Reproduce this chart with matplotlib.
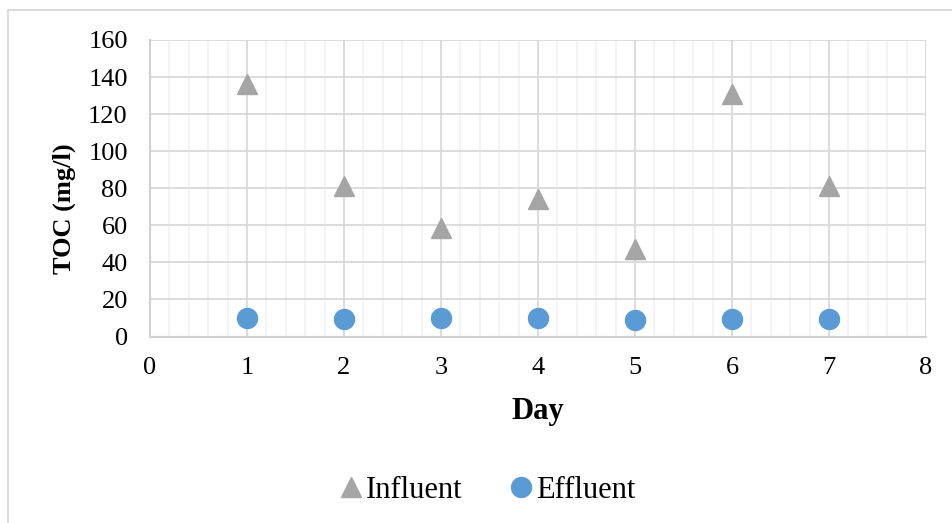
import matplotlib
matplotlib.use("Agg")
import matplotlib.pyplot as plt
from matplotlib.ticker import MultipleLocator
from matplotlib.patches import Rectangle

days = [1, 2, 3, 4, 5, 6, 7]
influent = [136, 81, 58.5, 74, 47, 131, 81]
effluent = [10.1, 9.4, 10.1, 10.1, 8.8, 9.6, 9.6]

x_ticks = [0, 1, 2, 3, 4, 5, 6, 7, 8]
y_ticks = [0, 20, 40, 60, 80, 100, 120, 140, 160]

plt.rcParams['font.family'] = ['Liberation Serif', 'DejaVu Serif']

W, H = 952, 523
fig = plt.figure(figsize=(W / 100, H / 100), dpi=100)

# outer chart frame
fig.patches.append(Rectangle((8 / W, -0.1), 2.0, 1 - 10 / H + 0.1,
                             transform=fig.transFigure, fill=False,
                             edgecolor='#D9D9D9', linewidth=1.3))

ax = fig.add_axes([150 / W, 1 - 336.5 / H, (926 - 150) / W, (336.5 - 40) / H])

ax.set_xlim(0, 8)
ax.set_ylim(0, 160)
ax.set_xticks(x_ticks)
ax.set_yticks(y_ticks)
ax.xaxis.set_minor_locator(MultipleLocator(0.2))

ax.grid(which='major', axis='both', color='#D9D9D9', linewidth=1.3, zorder=0)
ax.grid(which='minor', axis='x', color='#F2F2F2', linewidth=1.3, zorder=0)
ax.set_axisbelow(True)

for side in ['top', 'right']:
    ax.spines[side].set_visible(False)
for side in ['left', 'bottom']:
    ax.spines[side].set_color('#D0D0D0')
    ax.spines[side].set_linewidth(1.5)

ax.tick_params(which='both', length=0, labelsize=19, colors='black')
ax.tick_params(axis='y', pad=16)
ax.tick_params(axis='x', pad=15)

ax.plot(days, influent, linestyle='none', marker='^', markersize=14.4,
        color='#A5A5A5', label='Influent', zorder=3, clip_on=False)
ax.plot(days, effluent, linestyle='none', marker='o', markersize=14.4,
        color='#5B9BD5', label='Effluent', zorder=3, clip_on=False)

ax.set_xlabel('Day', fontsize=22, fontweight='bold')
ax.xaxis.set_label_coords(0.5, -(412 - 336.5) / 296.5)
ax.xaxis.label.set_va('center')
ax.set_ylabel('TOC (mg/l)', fontsize=19, fontweight='bold')
ax.yaxis.set_label_coords(-(150 - 64) / 776, (336.5 - 209) / 296.5)
ax.yaxis.label.set_va('center')

leg = fig.legend(loc='center', bbox_to_anchor=(487 / W, 1 - 490 / H),
                 ncol=2, frameon=False, fontsize=22, handlelength=0.8,
                 handletextpad=0.1, columnspacing=1.5, borderpad=0)

fig.savefig('out.png', dpi=100)
